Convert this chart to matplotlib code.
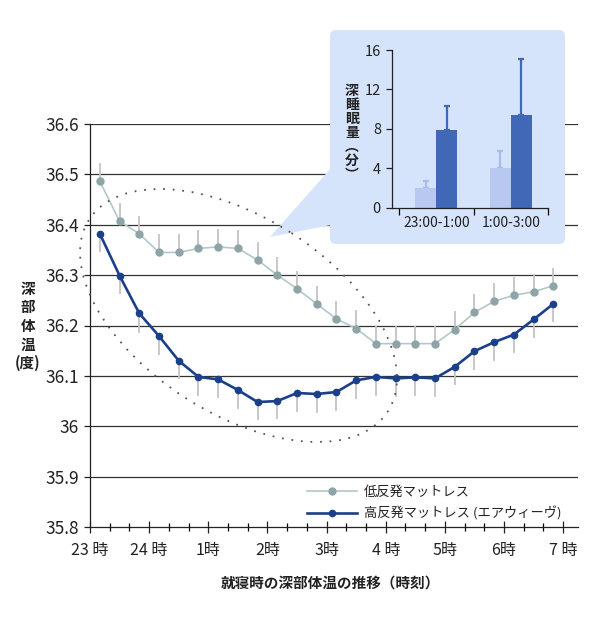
import numpy as np
import matplotlib
matplotlib.use("Agg")
import matplotlib.pyplot as plt
from matplotlib.patches import Ellipse, FancyBboxPatch, Polygon
from matplotlib.lines import Line2D
from matplotlib.legend_handler import HandlerLine2D

plt.rcParams['font.family'] = ['Noto Sans CJK JP', 'DejaVu Sans']

# ---------------- data ----------------
minutes = [10, 30, 50, 70, 90, 110, 130, 150, 170, 190, 210, 230,
           250, 270, 290, 310, 330, 350, 370, 390, 410, 430, 450, 470]
low_temp = [36.486, 36.407, 36.382, 36.345, 36.345, 36.353, 36.356, 36.353,
            36.330, 36.300, 36.273, 36.243, 36.213, 36.194, 36.164, 36.164,
            36.164, 36.164, 36.192, 36.226, 36.248, 36.260, 36.267, 36.279]
low_err = [0.036, 0.036, 0.036, 0.036, 0.036, 0.036, 0.036, 0.036,
           0.036, 0.036, 0.036, 0.036, 0.036, 0.036, 0.036, 0.036,
           0.036, 0.036, 0.036, 0.036, 0.036, 0.036, 0.036, 0.036]
high_temp = [36.382, 36.299, 36.224, 36.179, 36.130, 36.098, 36.093, 36.072,
             36.048, 36.050, 36.066, 36.064, 36.068, 36.091, 36.098, 36.095,
             36.097, 36.095, 36.118, 36.149, 36.167, 36.182, 36.212, 36.243]
high_err = [0.037, 0.037, 0.038, 0.037, 0.037, 0.037, 0.036, 0.037,
            0.036, 0.036, 0.037, 0.037, 0.037, 0.037, 0.037, 0.037,
            0.037, 0.037, 0.037, 0.037, 0.037, 0.037, 0.037, 0.037]
hour_ticks = [0, 60, 120, 180, 240, 300, 360, 420, 480]
hour_labels = ["23 時", "24 時", "1時", "2時", "3時", "4 時", "5時", "6時", "7 時"]
y_ticks = [35.8, 35.9, 36.0, 36.1, 36.2, 36.3, 36.4, 36.5, 36.6]
y_labels = ["35.8", "35.9", "36", "36.1", "36.2", "36.3", "36.4", "36.5", "36.6"]
series_names = ["低反発マットレス", "高反発マットレス (エアウィーヴ)"]

inset_cats = ["23:00-1:00", "1:00-3:00"]
inset_low = [2.0, 4.0]
inset_low_err = [0.7, 1.75]
inset_high = [7.85, 9.4]
inset_high_err = [2.5, 5.65]
inset_yticks = [0, 4, 8, 12, 16]

# ---------------- colors ----------------
c_low_line = '#b2c8c8'
c_low_mark = '#8ea4a6'
c_high = '#1b3f8b'
c_err = '#c4c4c4'
c_panel = '#d6e4fb'
c_bar_light = '#b8c8f0'
c_bar_dark = '#4068b6'
c_grid = '#333333'

W, H = 600, 630
fig = plt.figure(figsize=(6.0, 6.3), dpi=100)

# ---------------- main axes ----------------
ax = fig.add_axes([90 / W, 1 - 527 / H, (578 - 90) / W, (527 - 124) / H])
ax.set_zorder(1)
ax.set_xlim(0, 495)
ax.set_ylim(35.8, 36.6)

for yv in y_ticks[1:]:
    ax.axhline(yv, color=c_grid, lw=0.9, zorder=1)

x = np.array(minutes)
lo = np.array(low_temp)
hi = np.array(high_temp)
ax.errorbar(x, lo, yerr=[np.zeros_like(lo), np.array(low_err)], fmt='none',
            ecolor=c_err, elinewidth=1.3, capsize=0, zorder=2)
ax.errorbar(x, hi, yerr=[np.array(high_err), np.zeros_like(hi)], fmt='none',
            ecolor=c_err, elinewidth=1.3, capsize=0, zorder=2)
l1, = ax.plot(x, lo, color=c_low_line, lw=1.2, marker='o', ms=5,
              mfc=c_low_mark, mec=c_low_mark, zorder=3)
l2, = ax.plot(x, hi, color=c_high, lw=1.9, marker='o', ms=4.5,
              mfc=c_high, mec=c_high, zorder=4)

ax.set_yticks(y_ticks)
ax.set_yticklabels(y_labels)
ax.set_xticks(hour_ticks)
ax.set_xticklabels(hour_labels)
ax.set_xticks(np.arange(0, 495, 20), minor=True)
ax.tick_params(axis='y', direction='out', length=4, width=0.9, pad=4,
               labelsize=12.5, colors='#222222')
ax.tick_params(axis='x', which='major', direction='inout', length=9, width=0.9,
               pad=6, labelsize=11.5, colors='#222222')
ax.tick_params(axis='x', which='minor', direction='inout', length=6, width=0.9)
ax.tick_params(axis='y', which='minor', left=False)
for s in ['top', 'right']:
    ax.spines[s].set_visible(False)
for s in ['left', 'bottom']:
    ax.spines[s].set_linewidth(0.9)
    ax.spines[s].set_color('#222222')


class LeftMarkerHandler(HandlerLine2D):
    def get_xdata(self, legend, xdescent, ydescent, width, height, fontsize):
        return [-xdescent, -xdescent + width], [-xdescent]


leg = ax.legend([l1, l2], series_names, loc='upper left',
                bbox_to_anchor=(307 / W, 1 - 486 / H), bbox_transform=fig.transFigure,
                frameon=False, fontsize=9.5, handlelength=3.8, handletextpad=0.5,
                labelspacing=0.55, borderpad=0, borderaxespad=0,
                handler_map={Line2D: LeftMarkerHandler()})
for t in leg.get_texts():
    t.set_color('#222222')

fig.text(28 / W, 1 - 326 / H, "深\n部\n体\n温\n(度)", ha='center', va='center',
         fontsize=10.5, fontweight='bold', linespacing=1.2, color='#222222')
fig.text(330 / W, 1 - 583 / H, "就寝時の深部体温の推移（時刻）", ha='center', va='center',
         fontsize=10.5, fontweight='bold', color='#222222')

# ---------------- overlay (panel, callout, ellipse) ----------------
ov = fig.add_axes([0, 0, 1, 1])
ov.set_zorder(2)
ov.set_xlim(0, W)
ov.set_ylim(H, 0)
ov.axis('off')
ov.patch.set_alpha(0)
ov.add_patch(FancyBboxPatch((330, 30), 235, 214,
                            boxstyle="round,pad=0,rounding_size=6",
                            fc=c_panel, ec='none'))
ov.add_patch(Polygon([(331, 168), (270, 237), (331, 225)], closed=True,
                     fc=c_panel, ec='none'))
ov.add_patch(Ellipse((238.5, 315.5), 355, 196, angle=32.7, fill=False,
                     ec='#555555', lw=1.3, linestyle=(0, (1, 4.3))))

# ---------------- inset bar chart ----------------
ax2 = fig.add_axes([392 / W, 1 - 208 / H, (548 - 392) / W, (208 - 50) / H])
ax2.set_zorder(3)
ax2.patch.set_alpha(0)
xc = np.arange(len(inset_cats)) + 0.5
bw = 0.28
ax2.bar(xc - bw / 2, inset_low, bw, color=c_bar_light, zorder=2)
ax2.bar(xc + bw / 2, inset_high, bw, color=c_bar_dark, zorder=2)
ax2.errorbar(xc - bw / 2, inset_low,
             yerr=[np.zeros(len(inset_low)), np.array(inset_low_err)],
             fmt='none', ecolor='#a9bbea', elinewidth=1.6, capsize=2, capthick=1.6, zorder=1)
ax2.errorbar(xc + bw / 2, inset_high,
             yerr=[np.zeros(len(inset_high)), np.array(inset_high_err)],
             fmt='none', ecolor=c_bar_dark, elinewidth=1.6, capsize=2, capthick=1.6, zorder=1)
ax2.set_xlim(-0.094, 2.0)
ax2.set_ylim(0, 16)
ax2.set_yticks(inset_yticks)
ax2.set_xticks([0, 1, 2])
ax2.set_xticklabels([])
ax2.set_xticks(xc, minor=True)
ax2.set_xticklabels(inset_cats, minor=True)
ax2.tick_params(axis='x', which='minor', length=0, pad=6, labelsize=10, colors='#222222')
ax2.tick_params(axis='x', which='major', direction='out', length=5, width=0.9)
ax2.tick_params(axis='y', direction='out', length=4, width=0.9, pad=4,
                labelsize=10.5, colors='#222222')
for s in ['top', 'right']:
    ax2.spines[s].set_visible(False)
for s in ['left', 'bottom']:
    ax2.spines[s].set_linewidth(0.9)
    ax2.spines[s].set_color('#222222')

fig.text(352 / W, 1 - 133 / H, "深\n睡\n眠\n量\n︵\n分\n︶", ha='center', va='center',
         fontsize=10, fontweight='bold', linespacing=1.0, color='#222222', zorder=5)

fig.savefig("out.png", dpi=100)
